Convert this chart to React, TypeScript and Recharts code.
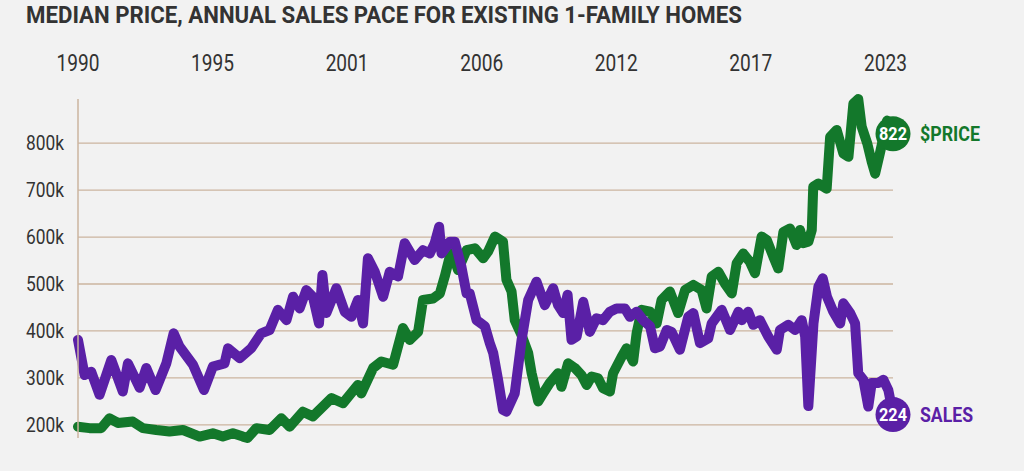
import React from 'react';
import { LineChart, Line, XAxis, YAxis, ReferenceLine } from 'recharts';

// Annual sales pace (thousands), existing 1-family homes
const SALES_T = [
  1990.0, 1990.27, 1990.54, 1990.88, 1991.36, 1991.83, 1992.04, 1992.52, 1992.79, 1993.17,
  1993.61, 1993.91, 1994.15, 1994.7, 1995.15, 1995.51, 1995.99, 1996.13, 1996.61, 1997.08,
  1997.49, 1997.83, 1998.17, 1998.52, 1998.79, 1999.06, 1999.33, 1999.6, 1999.85, 1999.99,
  2000.15, 2000.56, 2000.9, 2001.17, 2001.44, 2001.65, 2001.85, 2002.13, 2002.47, 2002.74,
  2003.08, 2003.35, 2003.76, 2004.1, 2004.38, 2004.58, 2004.76, 2004.86, 2005.2, 2005.4,
  2005.67, 2005.88, 2006.01, 2006.29, 2006.63, 2006.83, 2006.97, 2007.17, 2007.37, 2007.51,
  2007.85, 2008.13, 2008.4, 2008.74, 2009.08, 2009.42, 2009.62, 2009.83, 2010.01, 2010.17,
  2010.38, 2010.65, 2010.92, 2011.19, 2011.46, 2011.74, 2012.01, 2012.35, 2012.56, 2012.83,
  2013.1, 2013.38, 2013.58, 2013.79, 2014.06, 2014.26, 2014.6, 2014.94, 2015.15, 2015.42,
  2015.76, 2015.9, 2016.31, 2016.65, 2016.99, 2017.13, 2017.39, 2017.6, 2017.87, 2018.21,
  2018.56, 2018.69, 2019.03, 2019.31, 2019.58, 2019.72, 2019.85, 2020.06, 2020.26, 2020.44,
  2020.61, 2020.87, 2021.15, 2021.28, 2021.56, 2021.76, 2021.89, 2022.1, 2022.3, 2022.44,
  2022.71, 2022.92, 2023.12, 2023.31,
];
const SALES_K = [
  381, 306, 313, 264, 338, 271, 331, 279, 321, 274,
  331, 395, 367, 328, 274, 324, 331, 363, 342, 363,
  395, 402, 445, 423, 473, 448, 487, 473, 416, 519,
  438, 491, 441, 430, 466, 416, 555, 526, 473, 526,
  516, 587, 551, 572, 565, 587, 622, 565, 590, 590,
  537, 480, 480, 423, 410, 374, 353, 296, 232, 228,
  267, 381, 466, 505, 455, 491, 455, 438, 477, 381,
  388, 462, 398, 427, 423, 441, 448, 448, 430, 441,
  423, 410, 363, 367, 402, 398, 360, 430, 438, 374,
  384, 416, 445, 402, 441, 423, 441, 413, 423, 388,
  360, 402, 413, 402, 423, 388, 240, 416, 494, 512,
  473, 441, 416, 459, 438, 416, 310, 296, 239, 289,
  289, 296, 274, 224,
];

// Median price (thousands of dollars)
const PRICE_T = [
  1990.0, 1990.47, 1990.95, 1991.29, 1991.63, 1992.24, 1992.65, 1993.2, 1993.74, 1994.29,
  1994.97, 1995.51, 1995.92, 1996.33, 1996.74, 1996.93, 1997.29, 1997.83, 1998.31, 1998.65,
  1999.19, 1999.6, 2000.36, 2000.83, 2001.44, 2001.58, 2002.06, 2002.4, 2002.88, 2003.28,
  2003.56, 2003.9, 2004.1, 2004.51, 2004.79, 2004.99, 2005.26, 2005.53, 2005.88, 2006.22,
  2006.56, 2006.76, 2007.04, 2007.37, 2007.51, 2007.72, 2007.85, 2008.13, 2008.4, 2008.54,
  2008.81, 2009.01, 2009.28, 2009.62, 2009.76, 2010.03, 2010.31, 2010.58, 2010.79, 2010.99,
  2011.26, 2011.46, 2011.74, 2011.87, 2012.22, 2012.42, 2012.69, 2012.83, 2013.04, 2013.38,
  2013.65, 2013.85, 2014.19, 2014.53, 2014.81, 2015.15, 2015.49, 2015.69, 2015.9, 2016.17,
  2016.44, 2016.72, 2016.92, 2017.19, 2017.46, 2017.67, 2017.94, 2018.15, 2018.42, 2018.62,
  2018.83, 2019.1, 2019.37, 2019.51, 2019.64, 2019.85, 2019.99, 2020.05, 2020.26, 2020.6,
  2020.74, 2021.01, 2021.28, 2021.49, 2021.69, 2021.89, 2022.03, 2022.26, 2022.44, 2022.58,
  2022.78, 2023.07, 2023.31,
];
const PRICE_K = [
  196, 193, 193, 214, 204, 207, 193, 189, 186, 189,
  175, 182, 175, 182, 175, 172, 193, 189, 214, 196,
  228, 218, 257, 246, 285, 267, 321, 335, 328, 406,
  381, 398, 466, 469, 480, 516, 572, 530, 572, 576,
  555, 569, 601, 590, 509, 484, 423, 391, 353, 310,
  250, 267, 289, 310, 281, 331, 321, 306, 285, 303,
  299, 278, 271, 310, 345, 363, 335, 395, 445, 441,
  416, 466, 484, 438, 487, 498, 487, 448, 516, 526,
  501, 480, 544, 565, 547, 523, 601, 594, 558, 533,
  611, 618, 583, 615, 587, 590, 615, 707, 714, 703,
  813, 828, 778, 771, 884, 894, 835, 799, 760, 735,
  780, 848, 822,
];

const X_TICKS = [1990, 1995.5, 2001, 2006.5, 2012, 2017.5, 2023];
const Y_TICKS = [200, 300, 400, 500, 600, 700, 800];

const TITLE = 'MEDIAN PRICE, ANNUAL SALES PACE FOR EXISTING 1-FAMILY HOMES';
const PRICE_LABEL = '$PRICE';
const SALES_LABEL = 'SALES';

const GREEN = '#13782b';
const PURPLE = '#5a20a6';
const GRID = '#cbb49f';
const TEXT = '#333333';
const FONT = 'Roboto, "Noto Sans", sans-serif';

const salesData = SALES_T.map((t, i) => ({ t, v: SALES_K[i] }));
const priceData = PRICE_T.map((t, i) => ({ t, v: PRICE_K[i] }));

const XTick = (props: any) => {
  const { x, payload } = props;
  return (
    <text
      x={x}
      y={71}
      textAnchor="middle"
      fontFamily={FONT}
      fontSize={23}
      fill={TEXT}
      textLength={43}
      lengthAdjust="spacingAndGlyphs"
    >
      {Math.floor(payload.value)}
    </text>
  );
};

const YTick = (props: any) => {
  const { y, payload } = props;
  return (
    <text
      x={64}
      y={y + 7}
      textAnchor="end"
      fontFamily={FONT}
      fontSize={20}
      fill={TEXT}
      textLength={38}
      lengthAdjust="spacingAndGlyphs"
    >
      {`${payload.value}k`}
    </text>
  );
};

const makeEndDot = (color: string, lastIndex: number, label: string, labelLen: number) => (props: any) => {
  const { cx, cy, index } = props;
  if (index !== lastIndex) return <g key={`d${index}`} />;
  const num = props.payload?.v;
  return (
    <g key={`end${index}`}>
      <circle cx={cx} cy={cy + 1} r={17.5} fill={color} />
      <text
        x={cx}
        y={cy + 7}
        textAnchor="middle"
        fontFamily={FONT}
        fontWeight={700}
        fontSize={18}
        fill="#ffffff"
        textLength={28}
        lengthAdjust="spacingAndGlyphs"
      >
        {num}
      </text>
      <text
        x={cx + 27}
        y={cy + 8}
        fontFamily={FONT}
        fontWeight={700}
        fontSize={20}
        fill={color}
        textLength={labelLen}
        lengthAdjust="spacingAndGlyphs"
      >
        {label}
      </text>
    </g>
  );
};

export default function App() {
  return (
    <div
      style={{
        position: 'absolute',
        left: 0,
        top: 0,
        width: 1024,
        height: 471,
        background: '#f2f2f2',
        overflow: 'hidden',
      }}
    >
      <svg width={1024} height={40} style={{ position: 'absolute', left: 0, top: 0 }}>
        <text
          x={26}
          y={22.5}
          fontFamily={FONT}
          fontWeight={700}
          fontSize={24}
          fill={TEXT}
          textLength={716}
          lengthAdjust="spacingAndGlyphs"
        >
          {TITLE}
        </text>
      </svg>
      <div style={{ position: 'absolute', left: 0, top: 0 }}>
        <LineChart width={1024} height={471} margin={{ top: 59, right: 131, bottom: 33, left: 0 }}>
          <XAxis
            type="number"
            dataKey="t"
            orientation="top"
            height={40}
            domain={[1990, 2023.31]}
            ticks={X_TICKS}
            tick={<XTick />}
            axisLine={false}
            tickLine={false}
            allowDuplicatedCategory={false}
          />
          <YAxis
            type="number"
            dataKey="v"
            width={78}
            domain={[172, 894]}
            ticks={Y_TICKS}
            tick={<YTick />}
            axisLine={{ stroke: GRID, strokeWidth: 1.5 }}
            tickLine={false}
          />
          {Y_TICKS.map((v) => (
            <ReferenceLine key={v} y={v} stroke={GRID} strokeWidth={1.3} />
          ))}
          <Line
            data={priceData}
            dataKey="v"
            type="linear"
            stroke={GREEN}
            strokeWidth={10}
            strokeLinejoin="round"
            strokeLinecap="round"
            dot={makeEndDot(GREEN, priceData.length - 1, PRICE_LABEL, 60)}
            activeDot={false}
            isAnimationActive={false}
          />
          <Line
            data={salesData}
            dataKey="v"
            type="linear"
            stroke={PURPLE}
            strokeWidth={10}
            strokeLinejoin="round"
            strokeLinecap="round"
            dot={makeEndDot(PURPLE, salesData.length - 1, SALES_LABEL, 53)}
            activeDot={false}
            isAnimationActive={false}
          />
        </LineChart>
      </div>
    </div>
  );
}
